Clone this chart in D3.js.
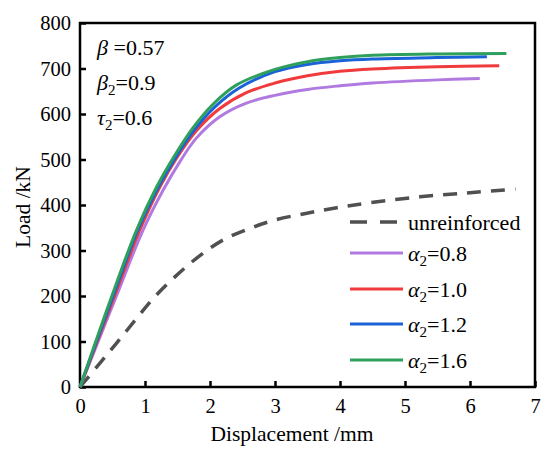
<!DOCTYPE html>
<html>
<head>
<meta charset="utf-8">
<script src="https://cdn.jsdelivr.net/npm/d3@7"></script>
<style>
  body { margin: 0; background: #fff; }
  svg text { font-family: "Liberation Serif", "Times New Roman", "DejaVu Serif", serif; fill: #000; }
</style>
</head>
<body>
<div id="chart"></div>
<script>
// curve data: [displacement mm, load kN]
const unreinforced = [[0,0],[0.31,53],[0.56,96],[0.85,147],[1.13,195],[1.46,242],[1.82,286],[2.2,323],[2.62,349],[3.0,367],[3.49,382],[3.95,394],[4.46,405],[5.23,418],[6.0,427],[6.7,435]];
const alpha08 = [[0,0],[0.56,200],[0.97,345],[1.28,433],[1.54,496],[1.79,547],[2.15,594],[2.56,624],[3.0,641],[3.5,654],[4.0,662],[4.5,668],[5.5,675],[6.15,678]];
const alpha10 = [[0,0],[0.53,200],[0.92,345],[1.23,440],[1.49,504],[1.79,563],[2.15,612],[2.56,647],[3.0,668],[3.5,684],[4.0,694],[4.5,699],[5.5,704],[6.45,706]];
const alpha12 = [[0,0],[0.51,200],[0.89,345],[1.2,438],[1.46,502],[1.76,565],[2.08,616],[2.45,657],[3.0,693],[3.5,709],[4.0,717],[4.5,721],[5.5,724],[6.26,726]];
const alpha16 = [[0,0],[0.49,200],[0.87,345],[1.18,440],[1.44,505],[1.74,570],[2.05,622],[2.41,664],[3.0,698],[3.5,715],[4.0,724],[4.5,729],[5.5,732],[6.56,733]];

const seriesNames = ["unreinforced", "0.8", "1.0", "1.2", "1.6"];
const seriesData = [unreinforced, alpha08, alpha10, alpha12, alpha16];
const seriesColors = ["#505050", "#b07ae0", "#f03a3c", "#1a62d8", "#2ea05c"];

const xTicks = [0, 1, 2, 3, 4, 5, 6, 7];
const yTicks = [0, 100, 200, 300, 400, 500, 600, 700, 800];

const width = 550, height = 457;
const margin = {top: 23, right: 15, bottom: 70, left: 80};

const svg = d3.select("#chart").append("svg")
    .attr("width", width)
    .attr("height", height);

const x = d3.scaleLinear().domain([0, 7]).range([margin.left, width - margin.right]);
const y = d3.scaleLinear().domain([0, 800]).range([height - margin.bottom, margin.top]);

// plot frame
svg.append("rect")
    .attr("x", x(0))
    .attr("y", y(800))
    .attr("width", x(7) - x(0))
    .attr("height", y(0) - y(800))
    .attr("fill", "none")
    .attr("stroke", "#000")
    .attr("stroke-width", 2.5);

// axes, ticks pointing inward
const xAxis = svg.append("g")
    .attr("transform", `translate(0,${y(0)})`)
    .call(d3.axisBottom(x).tickValues(xTicks).tickFormat(d3.format("d")).tickSize(-6).tickPadding(9));
const yAxis = svg.append("g")
    .attr("transform", `translate(${x(0)},0)`)
    .call(d3.axisLeft(y).tickValues(yTicks).tickFormat(d3.format("d")).tickSize(-6).tickPadding(9));

[xAxis, yAxis].forEach(function(g) {
    g.attr("font-family", null);
    g.select(".domain").remove();
    g.selectAll(".tick line").attr("stroke", "#000").attr("stroke-width", 2.5);
    g.selectAll(".tick text")
        .attr("font-size", 20.5)
        .attr("fill", "#000");
});
xAxis.selectAll(".tick text").attr("dy", "0.85em");

// axis titles
svg.append("text")
    .attr("x", 292)
    .attr("y", 441)
    .attr("text-anchor", "middle")
    .attr("font-size", 21.5)
    .text("Displacement /mm");

svg.append("text")
    .attr("transform", "translate(30,207) rotate(-90)")
    .attr("text-anchor", "middle")
    .attr("font-size", 21.5)
    .text("Load /kN");

// curves
const line = d3.line()
    .x(d => x(d[0]))
    .y(d => y(d[1]))
    .curve(d3.curveCatmullRom.alpha(0.5));

seriesData.forEach(function(d, i) {
    svg.append("path")
        .datum(d)
        .attr("fill", "none")
        .attr("stroke", seriesColors[i])
        .attr("stroke-width", i === 0 ? 3.5 : 3)
        .attr("stroke-dasharray", i === 0 ? "14,10" : null)
        .attr("d", line);
});

// parameter notes
const notes = [["β", "", "=0.57", 55], ["β", "2", "=0.9", 90], ["τ", "2", "=0.6", 125]];
notes.forEach(function(n) {
    const t = svg.append("text")
        .attr("x", 97)
        .attr("y", n[3])
        .attr("font-size", 22);
    t.append("tspan").attr("font-style", "italic").text(n[0]);
    if (n[1]) {
        t.append("tspan").attr("font-size", 15).attr("dy", 5).text(n[1]);
        t.append("tspan").attr("dy", -5).text(n[2]);
    } else {
        t.append("tspan").text(" " + n[2]);
    }
});

// legend
const legendY = [222, 253, 289, 324, 360];
seriesNames.forEach(function(name, i) {
    svg.append("line")
        .attr("x1", 350)
        .attr("x2", 403)
        .attr("y1", legendY[i])
        .attr("y2", legendY[i])
        .attr("stroke", seriesColors[i])
        .attr("stroke-width", i === 0 ? 3.5 : 3)
        .attr("stroke-dasharray", i === 0 ? "17,13" : null);

    const t = svg.append("text")
        .attr("x", 408)
        .attr("y", legendY[i] + 8)
        .attr("font-size", 22);
    if (i === 0) {
        t.text(name);
    } else {
        t.append("tspan").attr("font-style", "italic").text("α");
        t.append("tspan").attr("font-size", 15).attr("dy", 5).text("2");
        t.append("tspan").attr("dy", -5).text("=" + name);
    }
});
</script>
</body>
</html>
